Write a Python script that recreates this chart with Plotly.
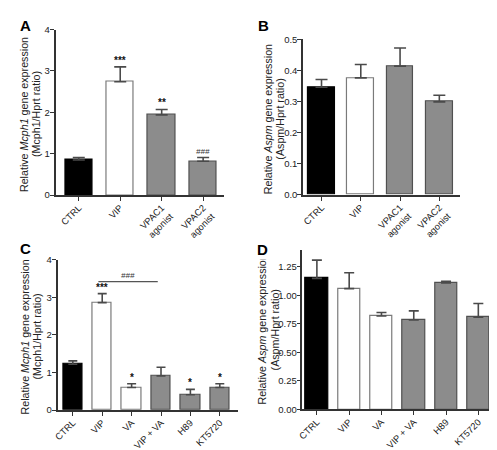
import plotly.graph_objects as go

W, H = 497, 450

# ---------------- data ----------------
A_cats = ["CTRL", "VIP", "VPAC1<br>agonist", "VPAC2<br>agonist"]
A_vals = [0.85, 2.74, 1.94, 0.82]
A_tops = [0.91, 3.10, 2.07, 0.91]
A_sig = ["", "***", "**", "###"]

B_cats = ["CTRL", "VIP", "VPAC1<br>agonist", "VPAC2<br>agonist"]
B_vals = [0.346, 0.376, 0.414, 0.299]
B_tops = [0.371, 0.419, 0.472, 0.320]

C_cats = ["CTRL", "VIP", "VA", "VIP + VA", "H89", "KT5720"]
C_vals = [1.22, 2.86, 0.60, 0.91, 0.41, 0.60]
C_tops = [1.31, 3.10, 0.70, 1.14, 0.55, 0.70]
C_sig = ["", "***", "*", "", "*", "*"]
C_bracket = ("VIP", "VIP + VA", 3.42, "###")

D_cats = ["CTRL", "VIP", "VA", "VIP + VA", "H89", "KT5720"]
D_vals = [1.15, 1.06, 0.82, 0.785, 1.11, 0.81]
D_tops = [1.31, 1.20, 0.85, 0.865, 1.125, 0.93]

AB_kind = ["black", "white", "grey", "grey"]
CD_kind = ["black", "white", "white", "grey", "grey", "grey"]

FILL = {"black": "#000000", "white": "#ffffff", "grey": "#8c8c8c"}
EDGE = {"black": "#000000", "white": "#7a7a7a", "grey": "#505050"}
FONT = "Liberation Sans, Arial, sans-serif"
AX = "#333333"

fig = go.Figure()


def px_x(a, b):
    return [a / W, b / W]


def px_y(top, bottom):
    return [1 - bottom / H, 1 - top / H]


panels = [
    # name, cats, vals, tops, kinds, x-domain px, y-domain px, xrange, yrange, ticks, fmt, barw, capw
    ("", A_cats, A_vals, A_tops, AB_kind, (43, 213), (16, 185.7), [-0.56, 3.5], [0, 4], [0, 1, 2, 3, 4], "d", 0.66, 6),
    ("2", B_cats, B_vals, B_tops, AB_kind, (293, 451.3), (26, 185.3), [-0.47, 3.52], [0, 0.5], [0, 0.1, 0.2, 0.3, 0.4, 0.5], ".1f", 0.68, 6),
    ("3", C_cats, C_vals, C_tops, CD_kind, (45, 227), (252, 406), [-0.52, 5.61], [0, 4], [0, 1, 2, 3, 4], "d", 0.66, 4.5),
    ("4", D_cats, D_vals, D_tops, CD_kind, (292.3, 488), (241.8, 405.3), [-0.45, 5.55], [0, 1.4], [0, 0.25, 0.5, 0.75, 1.0, 1.25], ".2f", 0.69, 5),
]

layout = {}
for name, cats, vals, tops, kinds, xd, yd, xr, yr, yt, fmt, bw, capw in panels:
    idx = list(range(len(cats)))
    fig.add_trace(go.Bar(
        x=idx, y=vals, width=bw,
        marker=dict(color=[FILL[k] for k in kinds],
                    line=dict(color=[EDGE[k] for k in kinds], width=1.2)),
        error_y=dict(type="data", symmetric=False,
                     array=[t - v for t, v in zip(tops, vals)],
                     arrayminus=[0] * len(vals),
                     color="#4a4a4a", thickness=1.6, width=capw),
        xaxis="x" + name, yaxis="y" + name, showlegend=False,
    ))
    layout["xaxis" + name] = dict(
        domain=px_x(*xd), range=xr, anchor="y" + name,
        tickvals=idx, ticktext=cats, tickangle=-45,
        showline=True, linecolor=AX, linewidth=1.5,
        ticks="outside", ticklen=4, tickwidth=1.2, tickcolor=AX,
        ticklabelstandoff=-2,
        showgrid=False, zeroline=False,
        tickfont=dict(family=FONT, size=9.3, color="#222"),
    )
    ticktext = [format(v, fmt) if fmt != "d" else str(int(v)) for v in yt]
    layout["yaxis" + name] = dict(
        domain=px_y(*yd), range=yr, anchor="x" + name,
        tickvals=yt, ticktext=ticktext,
        showline=True, linecolor=AX, linewidth=1.5,
        ticks="outside", ticklen=4, tickwidth=1.2, tickcolor=AX,
        ticklabelstandoff=-2,
        showgrid=False, zeroline=False,
        tickfont=dict(family=FONT, size=9.5, color="#222"),
    )

annotations = []


def paper(xpx, ypx):
    return xpx / W, 1 - ypx / H


# y-axis titles (two lines each)
titles = [
    ("Relative <i>Mcph1</i> gene expression", "(Mcph1/Hprt ratio)", 11.7, 23.8, 103),
    ("Relative <i>Aspm</i> gene expression", "(Aspm/Hprt ratio)", 257.5, 270, 108),
    ("Relative <i>Mcph1</i> gene expression", "(Mcph1/Hprt ratio)", 11.7, 23.8, 331),
    ("Relative <i>Aspm</i> gene expression", "(Aspm/Hprt ratio)", 251.5, 264.5, 323.5),
]
for l1, l2, x1, x2, yc in titles:
    for txt, xx in ((l1, x1), (l2, x2)):
        px_, py_ = paper(xx, yc)
        annotations.append(dict(text=txt, x=px_, y=py_, xref="paper", yref="paper",
                                textangle=-90, showarrow=False,
                                font=dict(family=FONT, size=10.7, color="#222"),
                                xanchor="center", yanchor="middle"))

# panel letters
for letter, xx, yy, bg in (("A", 13, 12, None), ("B", 253, 12, None),
                           ("C", 13, 240, None), ("D", 252, 241, "white")):
    px_, py_ = paper(xx, yy)
    annotations.append(dict(text="<b>%s</b>" % letter, x=px_, y=py_, xref="paper", yref="paper",
                            showarrow=False, xanchor="center", yanchor="middle",
                            bgcolor=bg,
                            font=dict(family=FONT, size=15, color="#000")))

# significance marks
for axn, tops, sig in (("", A_tops, A_sig), ("3", C_tops, C_sig)):
    for i, (t, s) in enumerate(zip(tops, sig)):
        if not s:
            continue
        if s.startswith("#"):
            fnt = dict(family=FONT, size=8, color="#333")
            txt = "<i>%s</i>" % s
        else:
            fnt = dict(family=FONT, size=10, color="#111")
            txt = "<b>%s</b>" % s
        annotations.append(dict(text=txt, x=i, y=t, xref="x" + axn, yref="y" + axn,
                                showarrow=False, yanchor="bottom", yshift=-1, font=fnt))

# bracket in C
b0 = C_cats.index(C_bracket[0])
b1 = C_cats.index(C_bracket[1])
shapes = [dict(type="line", xref="x3", yref="y3", x0=b0 - 0.13, x1=b1 - 0.11,
               y0=C_bracket[2], y1=C_bracket[2], line=dict(color="#555", width=1.2))]
annotations.append(dict(text="<i>%s</i>" % C_bracket[3], x=(b0 + b1) / 2 - 0.12, y=C_bracket[2],
                        xref="x3", yref="y3", showarrow=False, yanchor="bottom", yshift=0,
                        font=dict(family=FONT, size=8, color="#333")))

fig.update_layout(
    width=W, height=H, margin=dict(l=0, r=0, t=0, b=0),
    paper_bgcolor="white", plot_bgcolor="white",
    bargap=0, annotations=annotations, shapes=shapes,
    font=dict(family=FONT),
    **layout,
)

fig.write_html("out.html")
